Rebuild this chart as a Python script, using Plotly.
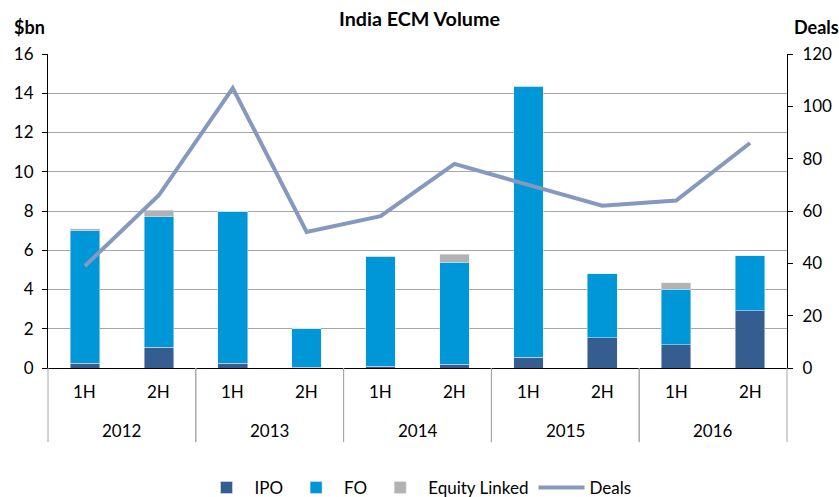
import plotly.graph_objects as go

years = ["2012", "2012", "2013", "2013", "2014", "2014", "2015", "2015", "2016", "2016"]
halves = ["1H", "2H", "1H", "2H", "1H", "2H", "1H", "2H", "1H", "2H"]

ipo = [0.25, 1.05, 0.25, 0.03, 0.10, 0.20, 0.55, 1.55, 1.19, 2.92]
fo = [6.75, 6.65, 7.75, 1.97, 5.60, 5.20, 13.80, 3.25, 2.83, 2.79]
equity_linked = [0.10, 0.35, 0.0, 0.0, 0.0, 0.40, 0.0, 0.0, 0.32, 0.0]
deals = [39, 66, 107, 52, 58, 78, 70, 62, 64, 86]

x = [years, halves]
FONT = "Lato, Carlito, Calibri, sans-serif"
n = len(halves)

fig = go.Figure()
fig.add_trace(go.Bar(x=x, y=ipo, name="IPO", marker_color="#355d8f"))
fig.add_trace(go.Bar(x=x, y=fo, name="FO", marker_color="#0097d8"))
fig.add_trace(go.Bar(x=x, y=equity_linked, name="Equity Linked", marker_color="#b2b2b2"))
fig.add_trace(go.Scatter(
    x=x, y=deals, name="Deals", mode="lines", yaxis="y2",
    line=dict(color="#8499bd", width=4),
))

# category labels (two levels) and group dividers below the axis
annotations = []
for i, h in enumerate(halves):
    annotations.append(dict(text=h, xref="paper", yref="paper", x=(i + 0.5) / n, y=-0.075,
                            xanchor="center", yanchor="middle", showarrow=False))
groups = []
for i, yr in enumerate(years):
    if not groups or groups[-1][0] != yr:
        groups.append([yr, i, i])
    else:
        groups[-1][2] = i
shapes = []
for yr, a, b in groups:
    annotations.append(dict(text=yr, xref="paper", yref="paper", x=(a + b + 1) / 2 / n, y=-0.2,
                            xanchor="center", yanchor="middle", showarrow=False))
    for edge in (a, b + 1):
        shapes.append(dict(type="line", xref="paper", yref="paper", x0=edge / n, x1=edge / n,
                           y0=0, y1=-0.236, line=dict(color="#a6a6a6", width=1)))

annotations += [
    dict(text="<b>$bn</b>", xref="paper", yref="paper", x=0, y=1.085, xshift=-36,
         xanchor="left", yanchor="middle", showarrow=False, font=dict(size=18)),
    dict(text="<b>Deals</b>", xref="paper", yref="paper", x=1.0, y=1.085, xshift=5,
         xanchor="left", yanchor="middle", showarrow=False, font=dict(size=18)),
]

fig.update_layout(
    width=839, height=497,
    barmode="stack",
    bargap=0.6,
    plot_bgcolor="white",
    paper_bgcolor="white",
    font=dict(family=FONT, size=17, color="#000000"),
    margin=dict(l=48, r=52, t=54, b=129, autoexpand=False),
    title=dict(text="<b>India ECM Volume</b>", x=0.5, xanchor="center",
               y=0.962, yanchor="middle", font=dict(size=19.7)),
    xaxis=dict(
        type="multicategory", showline=True, linecolor="#000000",
        showdividers=False, showticklabels=False, showgrid=False,
        automargin=False,
    ),
    yaxis=dict(
        range=[0, 16], dtick=2, showgrid=True, gridcolor="#a6a6a6",
        showline=True, linecolor="#000000", ticks="outside", ticklen=5,
        tickcolor="#000000", zeroline=False, automargin=False,
        ticklabelstandoff=5,
    ),
    yaxis2=dict(
        range=[0, 120], dtick=20, overlaying="y", side="right",
        showgrid=False, showline=True, linecolor="#000000",
        ticks="outside", ticklen=5, tickcolor="#000000", zeroline=False,
        automargin=False, ticklabelstandoff=6,
    ),
    legend=dict(orientation="h", x=0.5, xanchor="center", y=-0.382, yanchor="middle",
                font=dict(size=17), traceorder="normal", itemwidth=46),
    annotations=annotations,
    shapes=shapes,
)

fig.write_html("out.html", config={"displayModeBar": False},
               post_script="document.body.style.margin = '0';")
